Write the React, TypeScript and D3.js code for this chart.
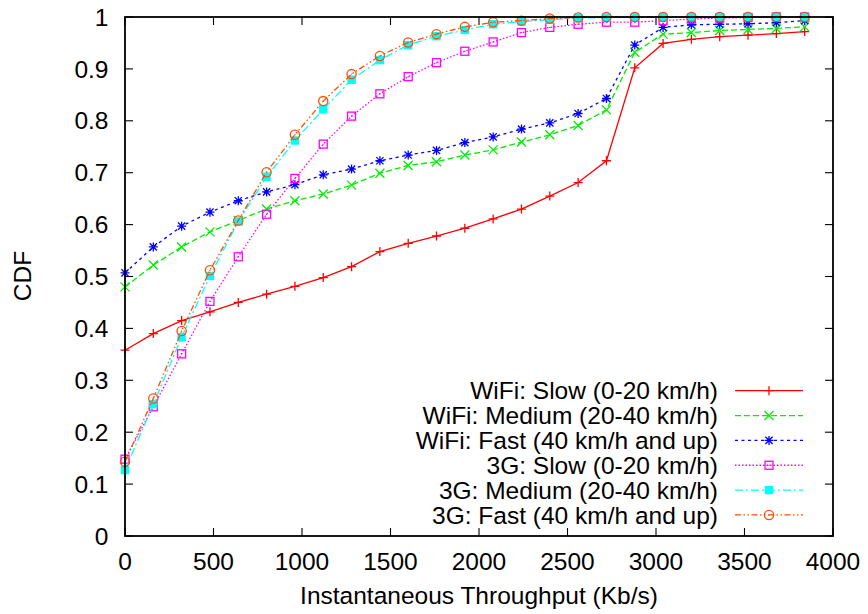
import React from "react";
import * as d3 from "d3";

const throughput = [0, 160, 320, 480, 640, 800, 960, 1120, 1280, 1440, 1600, 1760, 1920, 2080, 2240, 2400, 2560, 2720, 2880, 3040, 3200, 3360, 3520, 3680, 3840];

const wifiSlow = [0.358, 0.390, 0.415, 0.432, 0.450, 0.466, 0.481, 0.498, 0.519, 0.548, 0.564, 0.578, 0.593, 0.611, 0.630, 0.655, 0.681, 0.723, 0.902, 0.949, 0.957, 0.962, 0.965, 0.968, 0.972];
const wifiMedium = [0.480, 0.522, 0.557, 0.586, 0.608, 0.630, 0.646, 0.659, 0.676, 0.699, 0.714, 0.721, 0.734, 0.744, 0.759, 0.773, 0.791, 0.821, 0.932, 0.967, 0.970, 0.974, 0.976, 0.978, 0.981];
const wifiFast = [0.507, 0.557, 0.597, 0.624, 0.646, 0.663, 0.677, 0.696, 0.707, 0.723, 0.734, 0.743, 0.758, 0.769, 0.784, 0.796, 0.814, 0.843, 0.946, 0.980, 0.985, 0.986, 0.987, 0.989, 0.993];
const g3Slow = [0.148, 0.249, 0.351, 0.452, 0.538, 0.620, 0.689, 0.755, 0.809, 0.852, 0.885, 0.912, 0.934, 0.952, 0.970, 0.980, 0.986, 0.990, 0.990, 0.993, 0.996, 0.998, 0.999, 1.0, 1.0];
const g3Medium = [0.127, 0.254, 0.383, 0.501, 0.606, 0.692, 0.762, 0.822, 0.879, 0.917, 0.946, 0.963, 0.975, 0.986, 0.991, 0.995, 0.998, 0.999, 1.0, 1.0, 1.0, 1.0, 1.0, 1.0, 1.0];
const g3Fast = [0.143, 0.265, 0.395, 0.512, 0.608, 0.701, 0.773, 0.838, 0.890, 0.925, 0.951, 0.967, 0.981, 0.990, 0.993, 0.997, 0.999, 1.0, 1.0, 1.0, 1.0, 1.0, 1.0, 1.0, 1.0];

const seriesNames = [
  "WiFi: Slow (0-20 km/h)",
  "WiFi: Medium (20-40 km/h)",
  "WiFi: Fast (40 km/h and up)",
  "3G: Slow (0-20 km/h)",
  "3G: Medium (20-40 km/h)",
  "3G: Fast (40 km/h and up)",
];
const seriesValues = [wifiSlow, wifiMedium, wifiFast, g3Slow, g3Medium, g3Fast];
const seriesColors = ["#ff0000", "#00ee00", "#0000ff", "#ff00ff", "#00ffff", "#ff4d00"];
const seriesDash = ["none", "6,3", "3,3.5", "1.5,2", "8,3,2,3", "6,2.5,1.5,2.5,1.5,2.5"];
const seriesMarker = ["plus", "cross", "star", "squareDot", "squareFill", "circleDot"];

const xTicks = [0, 500, 1000, 1500, 2000, 2500, 3000, 3500, 4000];
const yTicks = [0, 0.1, 0.2, 0.3, 0.4, 0.5, 0.6, 0.7, 0.8, 0.9, 1];

const W = 868, H = 614;
const L = 125, R = 833, T = 17, B = 536;
const FONT = "'Liberation Sans', Arial, Helvetica, sans-serif";
const FS = 24.5;

function Marker({ kind, x, y, color }: { kind: string; x: number; y: number; color: string }) {
  const s = 4.5;
  const sw = 1.3;
  if (kind === "plus")
    return <path d={`M${x - s},${y}H${x + s}M${x},${y - s}V${y + s}`} stroke={color} strokeWidth={sw} fill="none" />;
  if (kind === "cross")
    return <path d={`M${x - s},${y - s}L${x + s},${y + s}M${x - s},${y + s}L${x + s},${y - s}`} stroke={color} strokeWidth={sw} fill="none" />;
  if (kind === "star")
    return (
      <path
        d={`M${x - s},${y}H${x + s}M${x},${y - s}V${y + s}M${x - s * 0.8},${y - s * 0.8}L${x + s * 0.8},${y + s * 0.8}M${x - s * 0.8},${y + s * 0.8}L${x + s * 0.8},${y - s * 0.8}`}
        stroke={color}
        strokeWidth={sw}
        fill="none"
      />
    );
  if (kind === "squareDot")
    return (
      <g>
        <rect x={x - 4} y={y - 4} width={8} height={8} stroke={color} strokeWidth={sw} fill="none" />
        <circle cx={x} cy={y} r={0.7} fill={color} />
      </g>
    );
  if (kind === "squareFill") return <rect x={x - 4.2} y={y - 4.2} width={8.4} height={8.4} fill={color} />;
  return (
    <g>
      <circle cx={x} cy={y} r={4.6} stroke={color} strokeWidth={sw} fill="none" />
      <circle cx={x} cy={y} r={0.7} fill={color} />
    </g>
  );
}

export default function App() {
  const x = d3.scaleLinear().domain([0, 4000]).range([L, R]);
  const y = d3.scaleLinear().domain([0, 1]).range([B, T]);
  const line = d3
    .line<[number, number]>()
    .x((d) => x(d[0]))
    .y((d) => y(d[1]));

  const legendX1 = 735, legendX2 = 803, legendTextX = 718;
  const legendY0 = 390.7, legendDy = 24.85;

  return (
    <svg
      width={W}
      height={H}
      style={{ position: "absolute", left: 0, top: 0, background: "#fff" }}
      fontFamily={FONT}
    >
      <rect x={0} y={0} width={W} height={H} fill="#fff" />
      {xTicks.map((t) => (
        <g key={"xt" + t}>
          <line x1={x(t)} x2={x(t)} y1={B} y2={B - 8} stroke="#000" strokeWidth={1.1} />
          <line x1={x(t)} x2={x(t)} y1={T} y2={T + 8} stroke="#000" strokeWidth={1.1} />
          <text x={x(t)} y={570} textAnchor="middle" fontSize={FS} fill="#000">
            {t}
          </text>
        </g>
      ))}
      {yTicks.map((t) => (
        <g key={"yt" + t}>
          <line x1={L} x2={L + 8} y1={y(t)} y2={y(t)} stroke="#000" strokeWidth={1.1} />
          <line x1={R} x2={R - 8} y1={y(t)} y2={y(t)} stroke="#000" strokeWidth={1.1} />
          <text x={108.5} y={y(t) + 8.6} textAnchor="end" fontSize={FS} fill="#000">
            {String(t)}
          </text>
        </g>
      ))}
      {seriesValues.map((vals, i) => {
        const pts: [number, number][] = throughput.map((tv, j) => [tv, vals[j]]);
        return (
          <g key={"s" + i}>
            <path
              d={line(pts) || ""}
              fill="none"
              stroke={seriesColors[i]}
              strokeWidth={1.3}
              strokeDasharray={seriesDash[i]}
            />
            {pts.map((p, j) => (
              <Marker key={j} kind={seriesMarker[i]} x={x(p[0])} y={y(p[1])} color={seriesColors[i]} />
            ))}
          </g>
        );
      })}
      {seriesNames.map((name, i) => {
        const ly = legendY0 + i * legendDy;
        return (
          <g key={"lg" + i}>
            <text x={legendTextX} y={ly + 8.6} textAnchor="end" fontSize={FS} fill="#000">
              {name}
            </text>
            <line
              x1={legendX1}
              x2={legendX2}
              y1={ly}
              y2={ly}
              stroke={seriesColors[i]}
              strokeWidth={1.3}
              strokeDasharray={seriesDash[i]}
            />
            <Marker kind={seriesMarker[i]} x={(legendX1 + legendX2) / 2} y={ly} color={seriesColors[i]} />
          </g>
        );
      })}
      <rect x={L} y={T} width={R - L} height={B - T} fill="none" stroke="#000" strokeWidth={1.8} />
      <text x={(L + R) / 2} y={604} textAnchor="middle" fontSize={FS} fill="#000">
        Instantaneous Throughput (Kb/s)
      </text>
      <text transform={`translate(${30.5},${276}) rotate(-90)`} textAnchor="middle" fontSize={FS} fill="#000">
        CDF
      </text>
    </svg>
  );
}
